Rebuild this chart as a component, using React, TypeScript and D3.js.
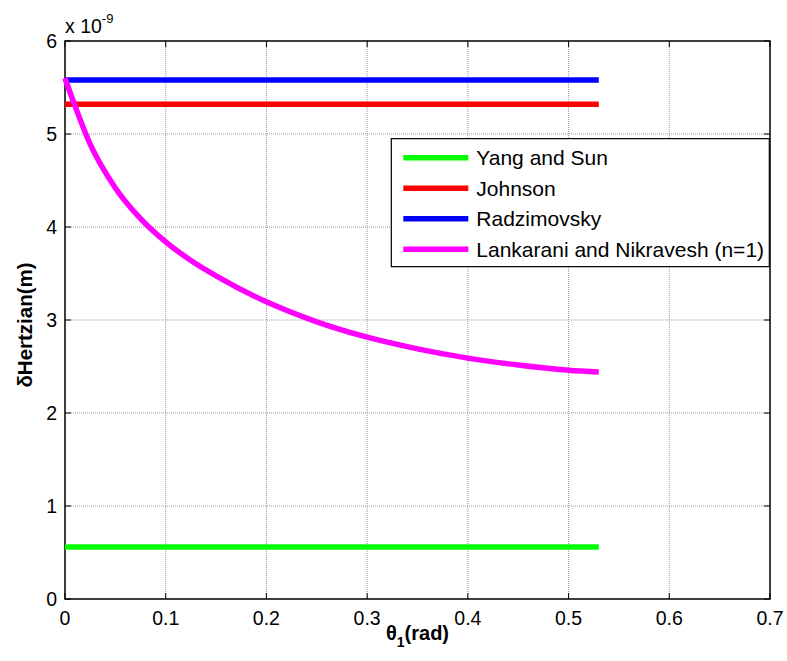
import React, { useEffect, useRef } from 'react';
import * as d3 from 'd3';

// values in units of 1e-9 m
const thetaEnd = 0.53;
const yangSun = 0.56;
const johnson = 5.32;
const radzimovsky = 5.58;
const lankTheta = [0, 0.01, 0.025, 0.05, 0.075, 0.1, 0.125, 0.15, 0.2, 0.25, 0.3, 0.35, 0.4, 0.45, 0.5, 0.53];
const lankValue = [5.6, 5.3, 4.89, 4.42, 4.09, 3.84, 3.64, 3.475, 3.195, 2.98, 2.815, 2.69, 2.59, 2.515, 2.46, 2.44];

const xTicks = [0, 0.1, 0.2, 0.3, 0.4, 0.5, 0.6, 0.7];
const yTicks = [0, 1, 2, 3, 4, 5, 6];

const seriesNames = ['Yang and Sun', 'Johnson', 'Radzimovsky', 'Lankarani and Nikravesh (n=1)'];
const seriesColors = ['#00ff00', '#ff0000', '#0000ff', '#ff00ff'];

const App = () => {
  const svgRef = useRef<SVGSVGElement>(null);

  useEffect(() => {
    const margin = { top: 41, right: 17, bottom: 62, left: 65 };
    const W = 787, H = 661;
    const width = W - margin.left - margin.right;
    const height = H - margin.top - margin.bottom;

    const root = d3.select(svgRef.current);
    root.selectAll('*').remove();
    const svg = root.append('g').attr('transform', `translate(${margin.left},${margin.top})`);

    const x = d3.scaleLinear().domain([0, 0.7]).range([0, width]);
    const y = d3.scaleLinear().domain([0, 6]).range([height, 0]);

    // grid
    svg.selectAll('.gx').data(xTicks.slice(1, -1)).enter().append('line')
      .attr('x1', d => x(d)).attr('x2', d => x(d)).attr('y1', 0).attr('y2', height)
      .attr('stroke', '#999').attr('stroke-width', 1).attr('stroke-dasharray', '1,1');
    svg.selectAll('.gy').data(yTicks.slice(1, -1)).enter().append('line')
      .attr('y1', d => y(d)).attr('y2', d => y(d)).attr('x1', 0).attr('x2', width)
      .attr('stroke', '#999').attr('stroke-width', 1).attr('stroke-dasharray', '1,1');

    // box
    svg.append('rect').attr('width', width).attr('height', height)
      .attr('fill', 'none').attr('stroke', '#000').attr('stroke-width', 1.5);

    // ticks (inner, all four sides)
    const tk = 6;
    xTicks.forEach(t => {
      svg.append('line').attr('x1', x(t)).attr('x2', x(t)).attr('y1', height).attr('y2', height - tk).attr('stroke', '#000');
      svg.append('line').attr('x1', x(t)).attr('x2', x(t)).attr('y1', 0).attr('y2', tk).attr('stroke', '#000');
    });
    yTicks.forEach(t => {
      svg.append('line').attr('y1', y(t)).attr('y2', y(t)).attr('x1', 0).attr('x2', tk).attr('stroke', '#000');
      svg.append('line').attr('y1', y(t)).attr('y2', y(t)).attr('x1', width).attr('x2', width - tk).attr('stroke', '#000');
    });

    const font = 'Arial, "Liberation Sans", sans-serif';

    svg.selectAll('.xl').data(xTicks).enter().append('text')
      .attr('x', d => x(d)).attr('y', height + 26).attr('text-anchor', 'middle')
      .style('font-family', font).style('font-size', '19.5px').text(d => String(d));
    svg.selectAll('.yl').data(yTicks).enter().append('text')
      .attr('x', -8).attr('y', d => y(d) + 7).attr('text-anchor', 'end')
      .style('font-family', font).style('font-size', '19.5px').text(d => String(d));

    // exponent
    const ex = svg.append('text').attr('x', 0).attr('y', -8)
      .style('font-family', font).style('font-size', '19.5px');
    ex.append('tspan').text('x 10');
    ex.append('tspan').attr('dy', -10).style('font-size', '13px').text('-9');

    // axis labels
    const xl = svg.append('text').attr('x', width / 2).attr('y', height + 41)
      .attr('text-anchor', 'middle').style('font-family', font).style('font-size', '20px').style('font-weight', 'bold');
    xl.append('tspan').text('θ');
    xl.append('tspan').attr('dy', 7).style('font-size', '14px').text('1');
    xl.append('tspan').attr('dy', -7).text('(rad)');

    svg.append('text').attr('transform', `translate(${-33},${height / 2 + 5}) rotate(-90)`)
      .attr('text-anchor', 'middle').style('font-family', font).style('font-size', '20.5px').style('font-weight', 'bold')
      .text('δHertzian(m)');

    // series
    const lw = 5.5;
    const flat = [yangSun, johnson, radzimovsky];
    flat.forEach((v, i) => {
      svg.append('line').attr('x1', x(0)).attr('x2', x(thetaEnd)).attr('y1', y(v)).attr('y2', y(v))
        .attr('stroke', seriesColors[i]).attr('stroke-width', lw);
    });
    const line = d3.line<number>().x((d, i) => x(lankTheta[i])).y(d => y(d)).curve(d3.curveMonotoneX);
    svg.append('path').attr('d', line(lankValue) as string).attr('fill', 'none')
      .attr('stroke', seriesColors[3]).attr('stroke-width', lw);

    // legend
    const lx = x(0.324), ly = y(4.95);
    const lg = svg.append('g').attr('transform', `translate(${lx},${ly})`);
    lg.append('rect').attr('width', 378).attr('height', 128).attr('fill', '#fff')
      .attr('stroke', '#000').attr('stroke-width', 1.2);
    seriesNames.forEach((n, i) => {
      const yy = 19 + i * 30.5;
      lg.append('line').attr('x1', 12).attr('x2', 77).attr('y1', yy).attr('y2', yy)
        .attr('stroke', seriesColors[i]).attr('stroke-width', lw);
      lg.append('text').attr('x', 85).attr('y', yy + 7.5).style('font-family', font).style('font-size', '21px').text(n);
    });
  }, []);

  return <svg ref={svgRef} width={787} height={661} style={{ display: 'block', position: 'absolute', left: 0, top: 0 }}></svg>;
};

export default App;
